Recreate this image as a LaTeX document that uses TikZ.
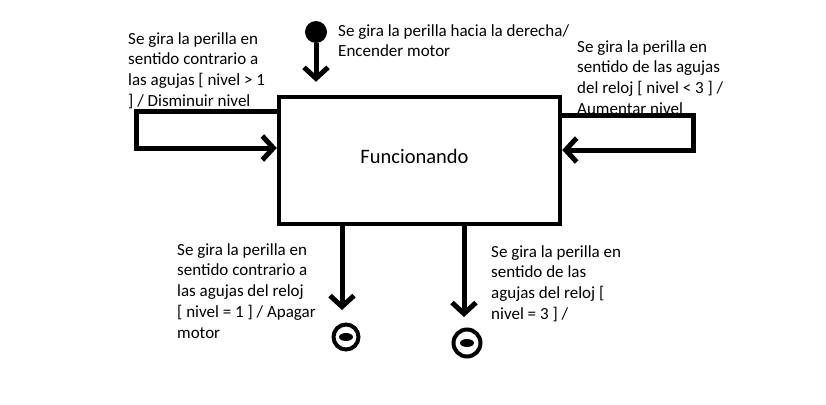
\documentclass[tikz,border=0pt]{standalone}
\usepackage{fontspec}
\setmainfont{Carlito}
\usetikzlibrary{arrows.meta}
\tikzset{
flecha/.style={line width=5pt, -{Straight Barb[length=11pt,width=24pt]}},
etiqueta/.style={anchor=base west, align=left, inner sep=0pt, font=\fontsize{17}{20.8}\selectfont},
estado/.style={draw, line width=4.5pt, minimum width=281pt, minimum height=127pt, font=\fontsize{20.5}{25}\selectfont, text height=15pt, text depth=10pt},
inicial/.style={circle, fill, inner sep=0pt, minimum size=22pt},
final/.style={circle, draw, line width=4pt, inner sep=0pt, path picture={\fill (path picture bounding box.center) ellipse (7pt and 4pt);}}
}
\begin{document}
\begin{tikzpicture}[x=1pt,y=-1pt]
\useasboundingbox (0,0) rectangle (826,404);

% estados
\node[estado] (func) at (419.5,160.5) {Funcionando\hspace*{10pt}};
\node[inicial] (ini) at (316,32) {};
\node[final, minimum size=25pt] (fin1) at (346,337) {};
\node[final, minimum size=27pt] (fin2) at (467,343) {};

% etiquetas (ancladas en la linea base de la ultima linea)
\node[etiqueta] (e0) at (338,56.8) {Se gira la perilla hacia la derecha/\\Encender motor};
\node[etiqueta] (e1) at (128,106.4) {Se gira la perilla en\\sentido contrario a\\las agujas [ nivel > 1\\] / Disminuir nivel};
\node[etiqueta] (e2) at (577,114.4) {Se gira la perilla en\\sentido de las agujas\\del reloj [ nivel < 3 ] /\\Aumentar nivel};
\node[etiqueta] (e3) at (177,338.2) {Se gira la perilla en\\sentido contrario a\\las agujas del reloj\\{}[ nivel = 1 ] / Apagar\\motor};
\node[etiqueta] (e4) at (491,319.4) {Se gira la perilla en\\sentido de las\\agujas del reloj [\\nivel = 3 ] /};

% transiciones
\draw[flecha, shorten >=13pt] (ini) -- (ini |- func.north);
\draw[flecha] ([yshift=49.5pt]func.west) -- ++(-140,0) |- ([yshift=12.5pt]func.west);
\draw[flecha] ([yshift=45.5pt]func.east) -- ++(131,0) |- ([yshift=10.5pt]func.east);
\draw[flecha, shorten >=12.5pt] ([xshift=-77.5pt]func.south) -- ([xshift=-77.5pt]func.south |- fin1.north);
\draw[flecha, shorten >=10.5pt] ([xshift=44.5pt]func.south) -- ([xshift=44.5pt]func.south |- fin2.north);

\end{tikzpicture}
\end{document}
